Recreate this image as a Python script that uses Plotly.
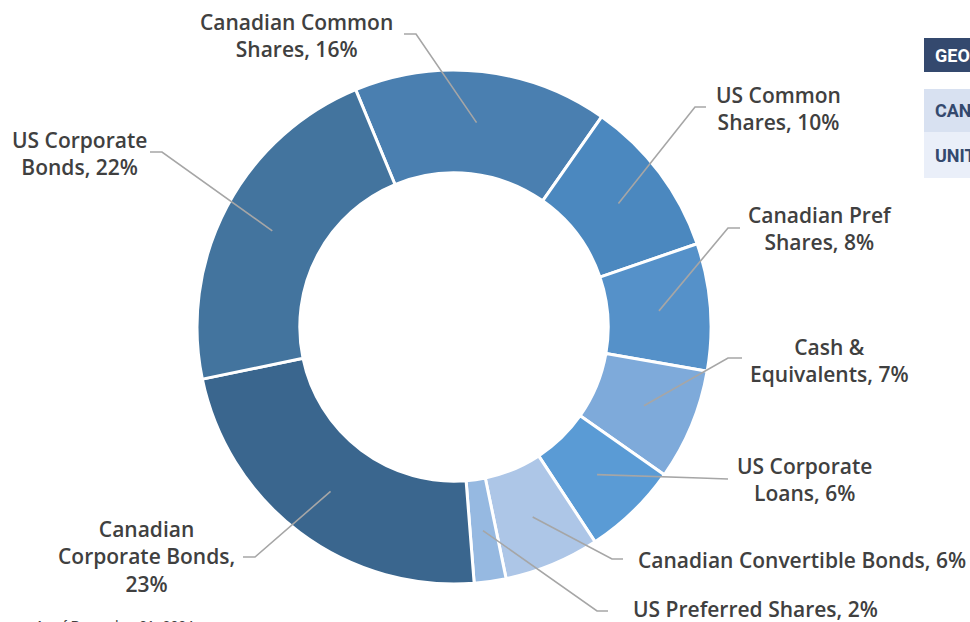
import math
import plotly.graph_objects as go

# ---------------- data ----------------
categories = [
    "Canadian Common Shares",
    "US Common Shares",
    "Canadian Pref Shares",
    "Cash & Equivalents",
    "US Corporate Loans",
    "Canadian Convertible Bonds",
    "US Preferred Shares",
    "Canadian Corporate Bonds",
    "US Corporate Bonds",
]
weights = [16, 10, 8, 7, 6, 6, 2, 23, 22]
label_texts = [
    "Canadian Common<br>Shares, 16%",
    "US Common<br>Shares, 10%",
    "Canadian Pref<br>Shares, 8%",
    "Cash &<br>Equivalents, 7%",
    "US Corporate<br>Loans, 6%",
    "Canadian Convertible Bonds, 6%",
    "US Preferred Shares, 2%",
    "Canadian<br>Corporate Bonds,<br>23%",
    "US Corporate<br>Bonds, 22%",
]
table_rows = ["GEOGRAPHY", "CANADA", "UNITED STATES"]
footnote = "As of December 31, 2024"

# ---------------- styles / layout ----------------
W, H = 970, 622
colors = ["#4a7fb0", "#4b88bf", "#5591c9", "#7eaada", "#5a9bd5",
          "#adc6e7", "#96b9e1", "#3a668e", "#43749e"]
CX, CY, R_OUT = 454, 327, 257
HOLE = 0.6
ROTATION = -22.5

# label anchor (px), alignment, elbow point, line end point (px)
label_pos = [
    (296, 35.5, "center", (416, 34), (404, 34)),
    (778, 108.5, "center", (695, 107), (706, 107)),
    (820, 228.5, "center", (728, 228), (740, 228)),
    (829, 360, "center", (728, 358), (742, 358)),
    (804, 480, "center", (700, 478), (728, 479)),
    (636, 560, "left", (612, 559), (623, 559)),
    (631, 609, "left", (597, 611), (608, 611)),
    (146, 556.5, "center", (255, 557), (243, 557)),
    (79, 153.5, "center", (162, 152), (150, 152)),
]

def px(x):
    return x / W

def py(y):
    return 1 - y / H

fig = go.Figure(go.Pie(
    labels=categories,
    values=weights,
    hole=HOLE,
    sort=False,
    direction="clockwise",
    rotation=ROTATION,
    textinfo="none",
    marker=dict(colors=colors, line=dict(color="white", width=3)),
    domain=dict(x=[px(CX - R_OUT), px(CX + R_OUT)],
                y=[py(CY + R_OUT), py(CY - R_OUT)]),
    showlegend=False,
    hoverinfo="label+percent",
))

shapes = []
annotations = []
total = sum(weights)
cum = 0.0
r_mid = R_OUT * (1 + HOLE) / 2
label_font = dict(family="Open Sans, Liberation Sans, sans-serif", size=21,
                  color="#404040", weight=600)
for i, v in enumerate(weights):
    start = ROTATION + 360 * cum / total
    cum += v
    end = ROTATION + 360 * cum / total
    mid = math.radians((start + end) / 2)
    sx = CX + r_mid * math.sin(mid)
    sy = CY - r_mid * math.cos(mid)
    lx, ly, align, (ex, ey), (fx, fy) = label_pos[i]
    path = f"M {px(sx)},{py(sy)} L {px(ex)},{py(ey)} L {px(fx)},{py(fy)}"
    shapes.append(dict(type="path", xref="paper", yref="paper", path=path,
                       line=dict(color="#a6a6a6", width=1.6)))
    annotations.append(dict(
        x=px(lx), y=py(ly), xref="paper", yref="paper",
        text=label_texts[i], showarrow=False,
        xanchor=align, yanchor="middle", align=align,
        font=label_font,
    ))

# partial table at top right
table_bounds = [(38, 72, "#34496e", "white"),
                (89, 132, "#d8e1f1", "#34496e"),
                (132, 178, "#eaeff9", "#34496e")]
for txt, (y0, y1, fill, fc) in zip(table_rows, table_bounds):
    shapes.append(dict(type="rect", xref="paper", yref="paper",
                       x0=px(924), x1=px(990), y0=py(y1), y1=py(y0),
                       fillcolor=fill, line=dict(width=0), layer="below"))
    annotations.append(dict(
        x=px(933), y=py((y0 + y1) / 2), xref="paper", yref="paper",
        text=f"<b>{txt}</b>", showarrow=False, xanchor="left", yanchor="middle",
        font=dict(family="Roboto, sans-serif", size=18, color=fc),
    ))

annotations.append(dict(
    x=px(33), y=py(616), xref="paper", yref="paper", text=footnote,
    showarrow=False, xanchor="left", yanchor="top",
    font=dict(family="Liberation Sans, Arial, sans-serif", size=14, color="#404040"),
))

fig.update_layout(
    width=W, height=H,
    margin=dict(l=0, r=0, t=0, b=0),
    paper_bgcolor="white", plot_bgcolor="white",
    shapes=shapes, annotations=annotations,
)

fig.write_html("out.html", config={"displayModeBar": False},
               post_script="document.body.style.margin='0';document.body.style.overflow='hidden';")
